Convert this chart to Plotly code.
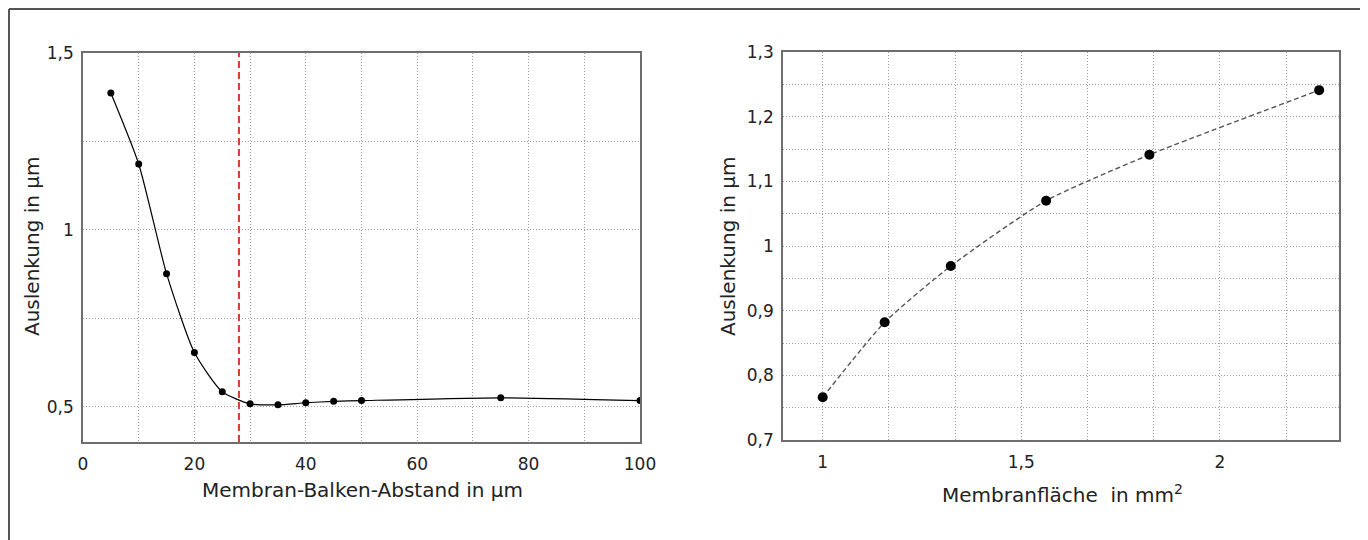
import plotly.graph_objects as go

# Page body has an 8px margin; the figure is sized so it fits the window exactly
OFF = 8
W, H = 1368 - OFF, 540 - OFF

# Left chart: deflection vs membrane-beam distance
dist_um = [5, 10, 15, 20, 25, 30, 35, 40, 45, 50, 75, 100]
defl_left = [1.387, 1.186, 0.876, 0.653, 0.542, 0.508, 0.505, 0.511, 0.515, 0.517, 0.525, 0.517]
threshold_um = 28

# Right chart: deflection vs membrane area
area_mm2 = [1.0, 1.156, 1.3225, 1.5625, 1.8225, 2.25]
defl_right = [0.766, 0.882, 0.969, 1.070, 1.141, 1.241]

left_xticks = [0, 20, 40, 60, 80, 100]
left_yticks = [0.5, 1, 1.5]
left_yticktext = ["0,5", "1", "1,5"]
right_xticks = [1, 1.5, 2]
right_xticktext = ["1", "1,5", "2"]
right_yticks = [0.7, 0.8, 0.9, 1.0, 1.1, 1.2, 1.3]
right_yticktext = ["0,7", "0,8", "0,9", "1", "1,1", "1,2", "1,3"]

FONT = "DejaVu Sans"
GRID = "#9c9c9c"
FRAME = "#6e6e6e"
TXT = "#222222"
GRID_DASH = "1px,2px"


def px(x):
    return (x - OFF) / W


def py(y):
    return 1 - (y - OFF) / H


fig = go.Figure()

fig.add_trace(go.Scatter(
    x=dist_um, y=defl_left, mode="lines+markers",
    line=dict(color="black", width=1.2, shape="spline", smoothing=0.6),
    marker=dict(color="black", size=7),
    xaxis="x", yaxis="y", showlegend=False,
))

fig.add_trace(go.Scatter(
    x=area_mm2, y=defl_right, mode="lines+markers",
    line=dict(color="#555555", width=1.4, dash="5px,3px", shape="spline", smoothing=0.6),
    marker=dict(color="black", size=10),
    xaxis="x2", yaxis="y2", showlegend=False,
))

grid_minor = dict(showgrid=True, gridcolor=GRID, griddash=GRID_DASH, gridwidth=1)

axis_common = dict(
    showline=True, linecolor=FRAME, linewidth=1.5, mirror=True,
    showgrid=True, gridcolor=GRID, griddash=GRID_DASH, gridwidth=1,
    zeroline=False, ticks="", automargin=False,
    tickfont=dict(family=FONT, size=17, color=TXT),
)

fig.update_layout(
    width=W, height=H,
    margin=dict(l=0, r=0, t=0, b=0),
    paper_bgcolor="white", plot_bgcolor="white",
    separators=", ",
    font=dict(family=FONT, color=TXT),
    xaxis=dict(
        domain=[px(83), px(640)], range=[0, 100],
        tickvals=left_xticks,
        minor=dict(dtick=10, tick0=0, **grid_minor),
        anchor="y", ticklabelstandoff=6, **axis_common,
    ),
    yaxis=dict(
        domain=[py(442), py(53)], range=[0.4, 1.5],
        tickvals=left_yticks, ticktext=left_yticktext,
        minor=dict(dtick=0.25, tick0=0, **grid_minor),
        anchor="x", ticklabelstandoff=4, **axis_common,
    ),
    xaxis2=dict(
        domain=[px(783), px(1339)], range=[0.9, 2.3],
        tickvals=right_xticks, ticktext=right_xticktext,
        minor=dict(dtick=1/6, tick0=1, **grid_minor),
        anchor="y2", ticklabelstandoff=6, **axis_common,
    ),
    yaxis2=dict(
        domain=[py(440), py(52)], range=[0.7, 1.3],
        tickvals=right_yticks, ticktext=right_yticktext,
        minor=dict(dtick=0.05, tick0=0.7, **grid_minor),
        anchor="x2", ticklabelstandoff=4, **axis_common,
    ),
)

# Red dashed threshold line
fig.add_shape(type="line", xref="x", yref="y domain",
              x0=threshold_um, x1=threshold_um, y0=0, y1=1,
              line=dict(color="#d83a34", width=2, dash="7px,4px"))

# Outer frame (left, top, right edges; bottom runs off the image)
frame_line = dict(color="#555555", width=2)
fig.add_shape(type="line", xref="paper", yref="paper",
              x0=px(9), x1=px(9), y0=0, y1=py(9), line=frame_line)
fig.add_shape(type="line", xref="paper", yref="paper",
              x0=px(9), x1=px(1366), y0=py(9), y1=py(9), line=frame_line)
fig.add_shape(type="line", xref="paper", yref="paper",
              x0=px(1366), x1=px(1366), y0=0, y1=py(9), line=frame_line)

# Axis titles
title_font = dict(family=FONT, size=20, color=TXT)
fig.add_annotation(text="Auslenkung in µm", x=px(32), y=py(247), xref="paper", yref="paper",
                   xanchor="center", yanchor="middle",
                   textangle=-90, showarrow=False, font=title_font)
fig.add_annotation(text="Membran-Balken-Abstand in µm", x=px(362), y=py(490), xref="paper", yref="paper",
                   xanchor="center", yanchor="middle",
                   showarrow=False, font=title_font)
fig.add_annotation(text="Auslenkung in µm", x=px(728), y=py(247), xref="paper", yref="paper",
                   xanchor="center", yanchor="middle",
                   textangle=-90, showarrow=False, font=title_font)
fig.add_annotation(text="Membranfläche  in mm<sup>2</sup>", x=px(1062), y=py(494), xref="paper", yref="paper",
                   xanchor="center", yanchor="middle",
                   showarrow=False, font=title_font)

fig.write_html("out.html")
